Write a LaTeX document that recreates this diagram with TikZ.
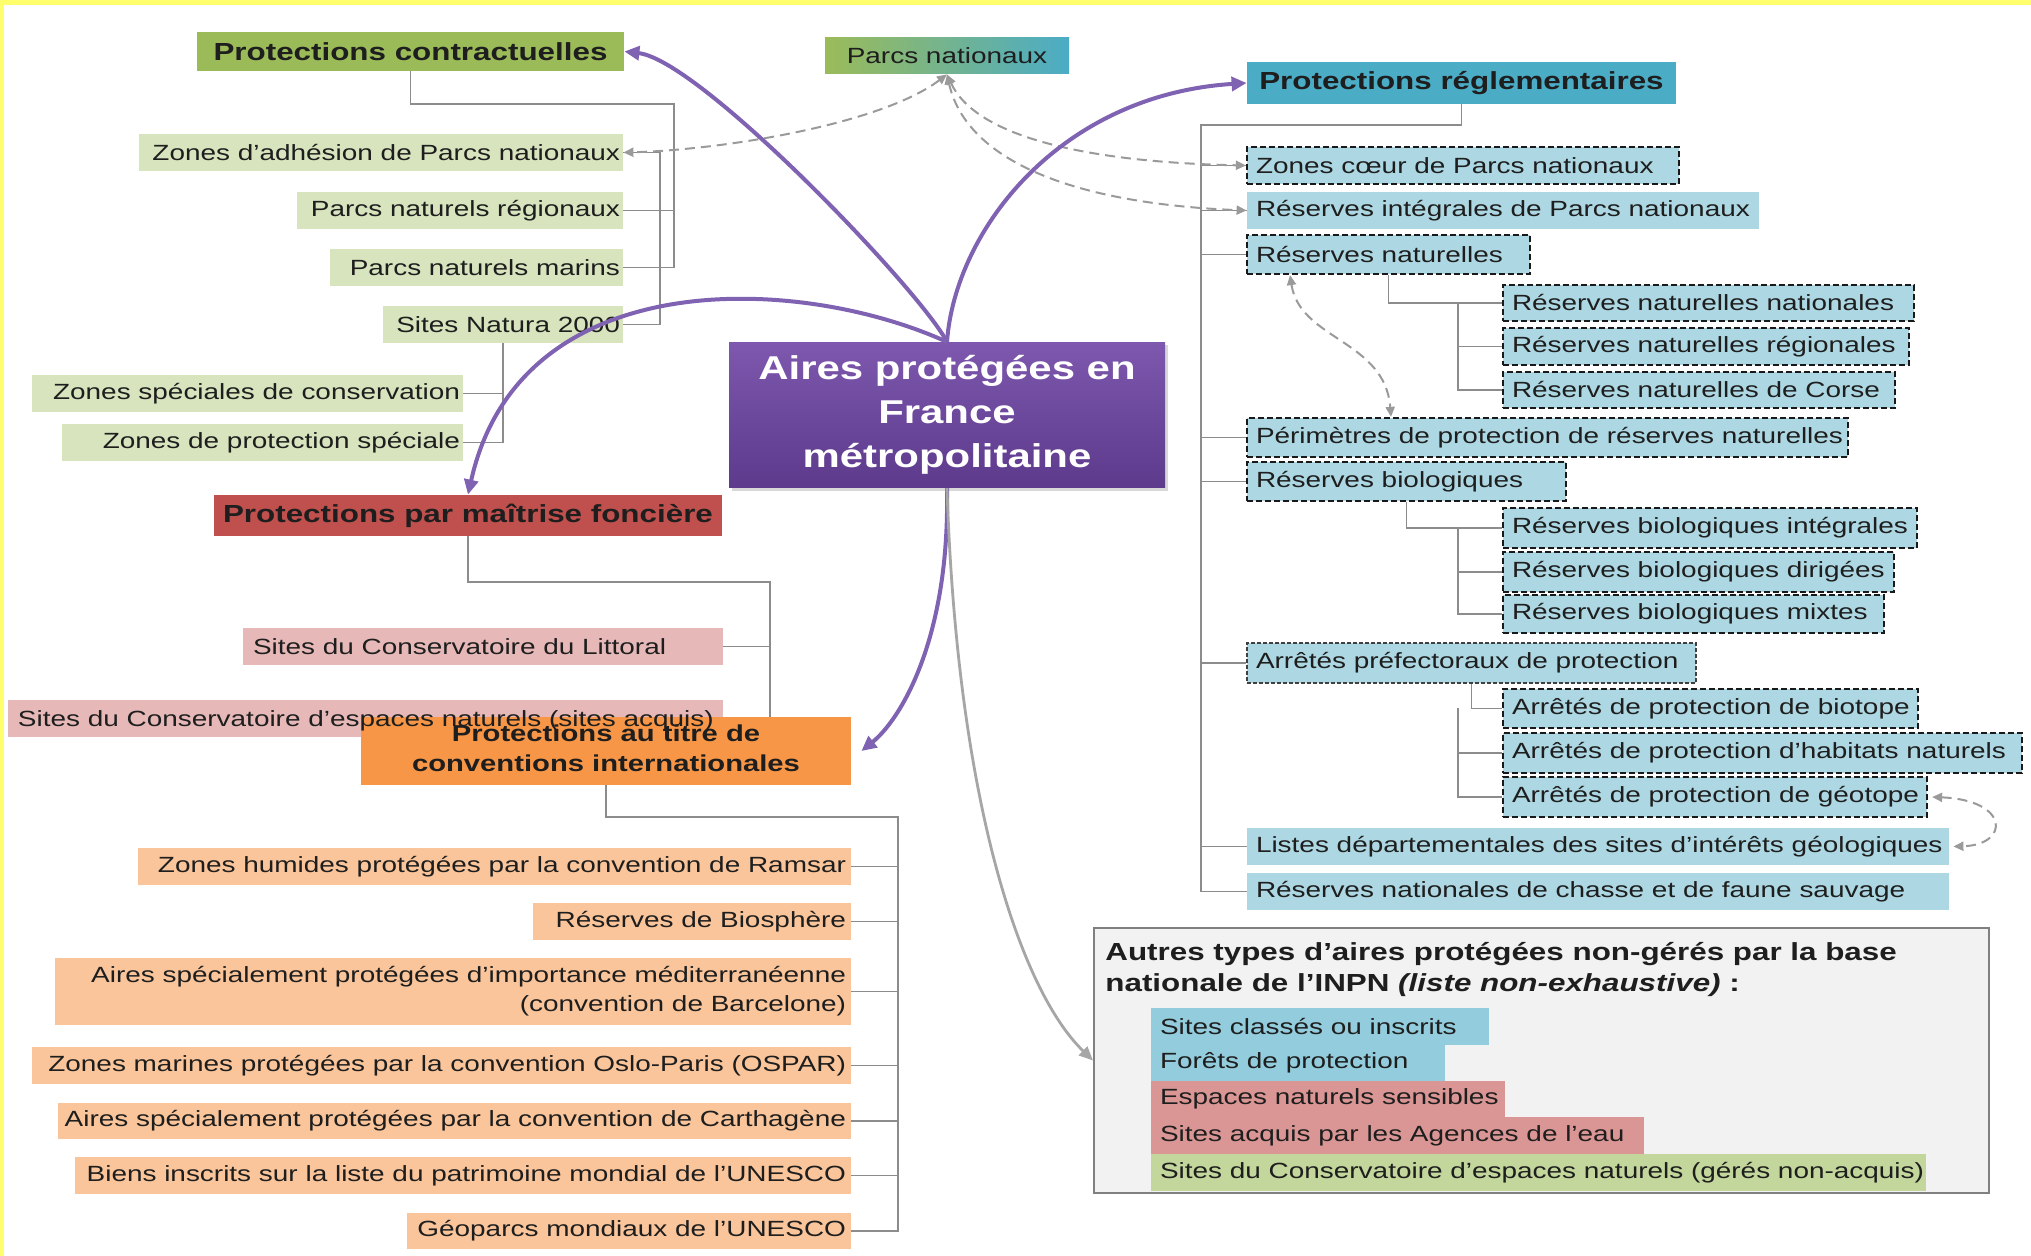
\documentclass[tikz,border=0pt]{standalone}
\usepackage{fontspec}
\setmainfont{Liberation Sans}[FakeStretch=1.27]
\usetikzlibrary{arrows.meta,shadows}
\definecolor{txt}{HTML}{1E1E1E}
\definecolor{hgreen}{HTML}{9BBB59}
\definecolor{lgreen}{HTML}{D7E4BD}
\definecolor{hred}{HTML}{C0504D}
\definecolor{lred}{HTML}{E6B9B8}
\definecolor{horange}{HTML}{F79646}
\definecolor{lorange}{HTML}{FAC59A}
\definecolor{hblue}{HTML}{4BACC6}
\definecolor{lblue}{HTML}{ADD8E3}
\definecolor{ablue}{HTML}{93CDDD}
\definecolor{ared}{HTML}{DA9694}
\definecolor{agreen}{HTML}{C3D69B}
\definecolor{abg}{HTML}{F2F2F2}
\definecolor{aborder}{HTML}{808080}
\definecolor{purp}{HTML}{7F62B1}
\definecolor{ctop}{HTML}{7D58AE}
\definecolor{cbot}{HTML}{5D3A8C}
\definecolor{treec}{HTML}{8C8C8C}
\definecolor{dgray}{HTML}{9A9A9A}
\definecolor{yel}{HTML}{FFFF6E}
\newcommand\itemfont{\fontsize{11}{14.5}\selectfont}
\newcommand\hdfont{\fontsize{12.35}{15.5}\selectfont\bfseries}
\newcommand\ocfont{\fontsize{11.5}{15}\selectfont\bfseries}
\newcommand\ctrfont{\fontsize{16.5}{22}\selectfont\bfseries}
\def\padx{4}
\newcommand\bx[8]{%
  \pgfmathsetmacro\bxw{(#4-#2)*0.5}%
  \pgfmathsetmacro\bxh{(#5-#3)*0.5}%
  \pgfmathsetmacro\bxt{(#4-#2)*0.5-2*\padx}%
  \node[#6, rectangle, minimum width=\bxw pt, minimum height=\bxh pt, inner xsep=\padx pt, inner ysep=0pt] (#1) at ({(#2+#4)/2},{(#3+#5)/2}) {\makebox[\bxt pt][#7]{#8}};}
\begin{document}
\begin{tikzpicture}[x=0.5pt,y=-0.5pt,
  itm/.style={font=\itemfont, text=txt},
  hdr/.style={font=\hdfont, text=txt},
  dbox/.style={draw=black!90, line width=1.1pt, dash pattern=on 3pt off 1.5pt},
  fbox/.style={draw=black!75, line width=0.9pt, dash pattern=on 2pt off 1pt},
  tree/.style={draw=treec, line width=0.9pt},
  parr/.style={draw=purp, line width=2pt, -{Triangle[length=7.5pt,width=7pt]}},
  garr/.style={draw=black!35, line width=1.4pt, -{Triangle[length=7pt,width=6pt]}},
  darr/.style={draw=dgray, line width=1pt, dash pattern=on 5pt off 3pt, {Triangle[length=5pt,width=4.5pt]}-{Triangle[length=5pt,width=4.5pt]}}
]
\useasboundingbox (0,0) rectangle (2031,1256);
\fill[white] (0,0) rectangle (2031,1256);
\fill[yel] (0,0) rectangle (2031,5);
\fill[yel] (0,0) rectangle (4,1256);

% ---------- green group
\bx{pc}{197}{32}{624}{71}{hdr,fill=hgreen}{c}{Protections contractuelles}
\bx{pn}{825}{38}{1069}{74}{itm,left color=hgreen,right color=hblue}{c}{Parcs nationaux}
\def\padx{1.5}
\bx{zad}{139}{134}{623}{171}{itm,fill=lgreen}{r}{Zones d’adhésion de Parcs nationaux}
\bx{pnr}{297}{192}{623}{229}{itm,fill=lgreen}{r}{Parcs naturels régionaux}
\bx{pnm}{330}{249}{623}{286}{itm,fill=lgreen}{r}{Parcs naturels marins}
\bx{natura}{383}{306}{623}{343}{itm,fill=lgreen}{r}{Sites Natura 2000}
\bx{zsc}{32}{375}{463}{412}{itm,fill=lgreen}{r}{Zones spéciales de conservation}
\bx{zps}{62}{424}{463}{461}{itm,fill=lgreen}{r}{Zones de protection spéciale}
\coordinate (gsp1) at (674,104);
\coordinate (gsp2) at (660,152);
\draw[tree] (pc.south) |- (gsp1) |- (pnm.east);
\draw[tree] (gsp1 |- pnr.east) -- (pnr.east);
\draw[tree] (zad.east) -| (gsp2 |- natura.east) -- (natura.east);
\draw[tree] (natura.south) |- (zps.east);
\draw[tree] (natura.south |- zsc.east) -- (zsc.east);

% ---------- red group
\def\padx{4}
\bx{pmf}{214}{495}{722}{536}{hdr,fill=hred}{c}{Protections par maîtrise foncière}
\def\padx{5}
\bx{scl}{243}{628}{723}{665}{itm,fill=lred}{l}{Sites du Conservatoire du Littoral}
\bx{scen}{8}{700}{723}{737}{itm,fill=lred}{l}{}
\coordinate (rsp) at (770,582);
\draw[tree] (pmf.south) |- (rsp) |- (scen.east);
\draw[tree] (rsp |- scl.east) -- (scl.east);

% ---------- orange group
\def\padx{4}
\bx{pci}{361}{717}{851}{785}{font=\ocfont,text=txt,fill=horange}{c}{\raisebox{-2pt}{\begin{tabular}{@{}c@{}}Protections au titre de\\conventions internationales\end{tabular}}}
\node[itm, anchor=west, inner sep=0pt] (scent) at ([xshift=5pt,yshift=-1pt]scen.west) {Sites du Conservatoire d’espaces naturels (sites acquis)};
\def\padx{2.5}
\bx{ramsar}{138}{848}{851}{885}{itm,fill=lorange}{r}{Zones humides protégées par la convention de Ramsar}
\bx{bio}{533}{903}{851}{940}{itm,fill=lorange}{r}{Réserves de Biosphère}
\bx{barc}{55}{958}{851}{1025}{itm,fill=lorange}{r}{\begin{tabular}{@{}r@{}}Aires spécialement protégées d’importance méditerranéenne\\(convention de Barcelone)\end{tabular}}
\bx{ospar}{32}{1047}{851}{1084}{itm,fill=lorange}{r}{Zones marines protégées par la convention Oslo-Paris (OSPAR)}
\bx{carth}{58}{1103}{851}{1139}{itm,fill=lorange}{r}{Aires spécialement protégées par la convention de Carthagène}
\bx{unesco}{75}{1157}{851}{1194}{itm,fill=lorange}{r}{Biens inscrits sur la liste du patrimoine mondial de l’UNESCO}
\bx{geo}{407}{1213}{851}{1249}{itm,fill=lorange}{r}{Géoparcs mondiaux de l’UNESCO}
\coordinate (osp) at (898,817);
\draw[tree] (pci.south) |- (osp) |- (geo.east);
\foreach \n in {ramsar,bio,barc,ospar,carth,unesco} \draw[tree] (osp |- \n.east) -- (\n.east);

% ---------- blue group
\def\padx{4}
\bx{pr}{1247}{62}{1676}{104}{hdr,fill=hblue}{c}{Protections réglementaires}
\def\padx{4.5}
\bx{zc}{1247}{147}{1679}{184}{itm,fill=lblue,dbox}{l}{Zones cœur de Parcs nationaux}
\bx{ri}{1247}{192}{1759}{229}{itm,fill=lblue}{l}{Réserves intégrales de Parcs nationaux}
\bx{rn}{1247}{235}{1530}{274}{itm,fill=lblue,dbox}{l}{Réserves naturelles}
\bx{rnn}{1503}{285}{1914}{321}{itm,fill=lblue,dbox}{l}{Réserves naturelles nationales}
\bx{rnr}{1503}{328}{1909}{365}{itm,fill=lblue,dbox}{l}{Réserves naturelles régionales}
\bx{rnc}{1503}{372}{1895}{408}{itm,fill=lblue,dbox}{l}{Réserves naturelles de Corse}
\bx{prn}{1247}{418}{1848}{457}{itm,fill=lblue,dbox}{l}{Périmètres de protection de réserves naturelles}
\bx{rb}{1247}{462}{1566}{501}{itm,fill=lblue,dbox}{l}{Réserves biologiques}
\bx{rbi}{1503}{508}{1917}{548}{itm,fill=lblue,dbox}{l}{Réserves biologiques intégrales}
\bx{rbd}{1503}{552}{1894}{592}{itm,fill=lblue,dbox}{l}{Réserves biologiques dirigées}
\bx{rbm}{1503}{595}{1884}{633}{itm,fill=lblue,dbox}{l}{Réserves biologiques mixtes}
\bx{apb}{1247}{643}{1696}{683}{itm,fill=lblue,fbox}{l}{Arrêtés préfectoraux de protection}
\bx{biot}{1503}{689}{1918}{728}{itm,fill=lblue,dbox}{l}{Arrêtés de protection de biotope}
\bx{hab}{1503}{733}{2022}{773}{itm,fill=lblue,dbox}{l}{Arrêtés de protection d’habitats naturels}
\bx{geot}{1503}{777}{1927}{817}{itm,fill=lblue,dbox}{l}{Arrêtés de protection de géotope}
\bx{ldsig}{1247}{828}{1949}{865}{itm,fill=lblue}{l}{Listes départementales des sites d’intérêts géologiques}
\bx{rncfs}{1247}{873}{1949}{910}{itm,fill=lblue}{l}{Réserves nationales de chasse et de faune sauvage}
\coordinate (bsp) at (1201,125);
\coordinate (nsp) at (1458,303);
\draw[tree] (pr.south) |- (bsp) |- (rncfs.west);
\foreach \n in {zc,ri,rn,prn,rb,apb,ldsig} \draw[tree] (bsp |- \n.west) -- (\n.west);
\draw[tree] (rn.south) |- (rnn.west);
\draw[tree] (nsp |- rnn.west) |- (rnc.west);
\draw[tree] (nsp |- rnr.west) -- (rnr.west);
\draw[tree] (rb.south) |- (rbi.west);
\draw[tree] (nsp |- rbi.west) |- (rbm.west);
\draw[tree] (nsp |- rbd.west) -- (rbd.west);
\draw[tree] (apb.south) |- (biot.west);
\draw[tree] (nsp |- biot.west) |- (geot.west);
\draw[tree] (nsp |- hab.west) -- (hab.west);

% ---------- other types box
\bx{autres}{1094}{928}{1989}{1193}{draw=aborder,fill=abg,line width=1pt}{l}{}
\node[anchor=north west, inner sep=0pt, font=\hdfont, text=txt, align=left] (autt) at (1105,942)
  {Autres types d’aires protégées non-gérés par la base\\nationale de l’INPN \textit{(liste non-exhaustive)} :};
\bx{sci}{1151}{1008}{1489}{1045}{itm,fill=ablue}{l}{Sites classés ou inscrits}
\bx{fp}{1151}{1045}{1445}{1081}{itm,fill=ablue}{l}{Forêts de protection}
\bx{ens}{1151}{1081}{1505}{1117}{itm,fill=ared}{l}{Espaces naturels sensibles}
\bx{sape}{1151}{1117}{1644}{1154}{itm,fill=ared}{l}{Sites acquis par les Agences de l’eau}
\bx{scgna}{1151}{1154}{1926}{1191}{itm,fill=agreen}{l}{Sites du Conservatoire d’espaces naturels (gérés non-acquis)}

% ---------- centre
\node[rectangle, top color=ctop, bottom color=cbot, minimum width=218pt, minimum height=72pt,
  text=white, font=\ctrfont, align=center,
  drop shadow={opacity=0.3,shadow xshift=1.5pt,shadow yshift=-1.5pt}] (ctr) at (947,415)
  {\raisebox{-2pt}{\begin{tabular}{@{}c@{}}Aires protégées en\\France\\métropolitaine\end{tabular}}};

% ---------- dashed links
\draw[darr] (pn.south) .. controls (880,125) and (720,150) .. (zad.east);
\draw[darr] (pn.south) .. controls (975,135) and (1080,162) .. (zc.west);
\draw[darr] (pn.south) .. controls (965,155) and (1060,203) .. (ri.west);
\draw[darr] (1290,0 |- rn.south) .. controls (1300,340) and (1385,340) .. (1391,0 |- prn.north);
\draw[darr] ([xshift=2pt]geot.east) .. controls (2010,800) and (2010,845) .. ([xshift=2pt]ldsig.east);

% ---------- main arrows
\draw[parr] (ctr.north) .. controls (920,290) and (700,60) .. (pc.east);
\draw[parr] (ctr.north) .. controls (955,230) and (1060,95) .. (pr.west);
\draw[parr] (ctr.north) .. controls (800,275) and (520,262) .. (pmf.north);
\draw[parr] (ctr.south) .. controls (950,640) and (900,720) .. ([xshift=5pt]pci.east);
\draw[garr] (ctr.south) .. controls (957,800) and (1020,990) .. (autres.west);
\end{tikzpicture}
\end{document}
